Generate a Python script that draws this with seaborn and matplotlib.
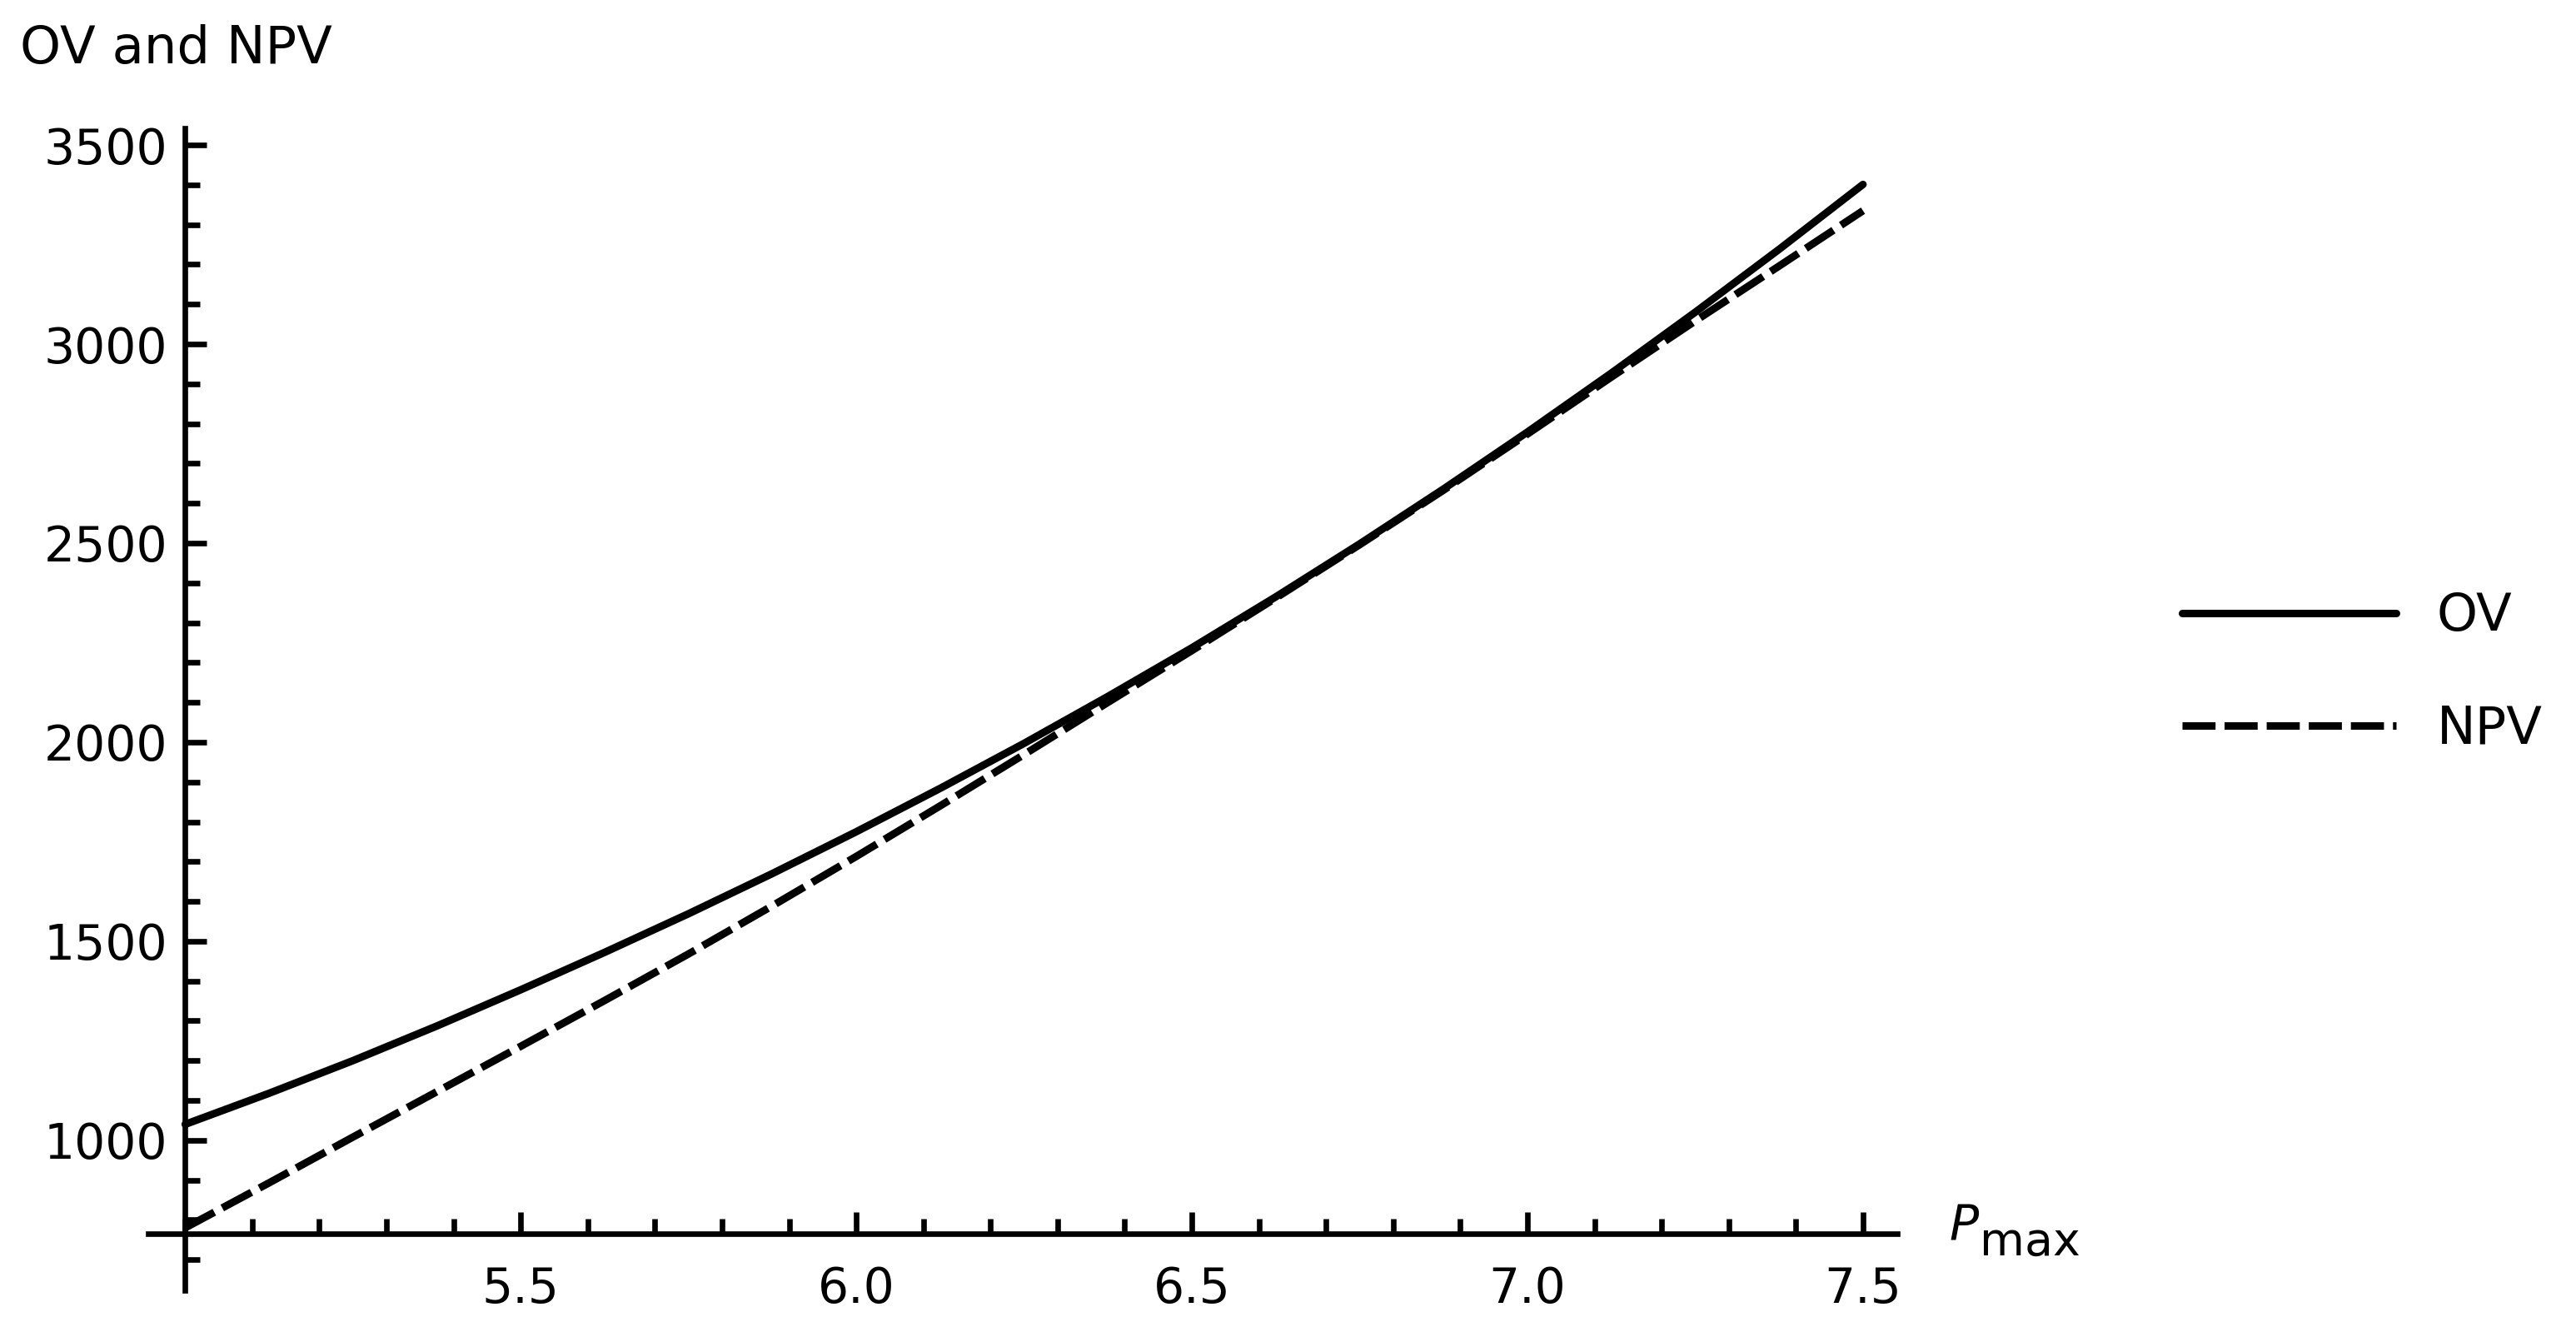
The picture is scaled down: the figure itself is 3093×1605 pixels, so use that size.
import matplotlib
matplotlib.use("Agg")
import matplotlib.pyplot as plt
import seaborn as sns
import pandas as pd
from matplotlib.lines import Line2D
from matplotlib.ticker import FixedLocator, MultipleLocator

# values
p_max = [5.0, 5.125, 5.25, 5.375, 5.5, 5.625, 5.75, 5.875, 6.0, 6.125, 6.25,
         6.375, 6.5, 6.625, 6.75, 6.875, 7.0, 7.125, 7.25, 7.375, 7.5]
ov = [1040, 1118, 1200, 1287, 1378, 1472, 1569, 1670, 1775, 1884, 1997,
      2115, 2237, 2365, 2498, 2636, 2779, 2927, 3080, 3238, 3401]
npv = [780, 893, 1008, 1122, 1236, 1351, 1468, 1589, 1713, 1840, 1969,
       2100, 2230, 2362, 2496, 2633, 2774, 2917, 3058, 3196, 3335]

x_ticks = [5.5, 6.0, 6.5, 7.0, 7.5]
x_tick_labels = ["5.5", "6.0", "6.5", "7.0", "7.5"]
y_ticks = [1000, 1500, 2000, 2500, 3000, 3500]
y_tick_labels = ["1000", "1500", "2000", "2500", "3000", "3500"]
series_names = ["OV", "NPV"]

sns.set_style("white")
plt.rcParams["font.family"] = ["DejaVu Sans"]
plt.rcParams["text.color"] = "black"

df = pd.DataFrame({
    "Pmax": p_max + p_max,
    "value": ov + npv,
    "series": [series_names[0]] * len(p_max) + [series_names[1]] * len(p_max),
})

W, H = 3093, 1605
fig = plt.figure(figsize=(W / 100, H / 100), dpi=100)
ax = fig.add_axes([178 / W, 1 - 1549 / H, (2278 - 178) / W, (1549 - 154) / H])

lw = 6.5
npv_dash = (4.4, 1.2)
sns.lineplot(data=df, x="Pmax", y="value", style="series", style_order=series_names,
             dashes={"OV": "", "NPV": npv_dash}, color="black", linewidth=lw,
             legend=False, ax=ax)

ax.set_xlim(4.945, 7.551)
ax.set_ylim(623, 3542)
ax.set_xlabel("")
ax.set_ylabel("")

# mathematica style axes crossing at (5.0, 765)
for side in ["top", "right"]:
    ax.spines[side].set_visible(False)
ax.spines["left"].set_position(("data", 5.0))
ax.spines["bottom"].set_position(("data", 765))
for side in ["left", "bottom"]:
    ax.spines[side].set_linewidth(4.8)
    ax.spines[side].set_color("black")

ax.xaxis.set_major_locator(FixedLocator(x_ticks))
ax.set_xticklabels(x_tick_labels)
ax.xaxis.set_minor_locator(MultipleLocator(0.1))
ax.yaxis.set_major_locator(FixedLocator(y_ticks))
ax.set_yticklabels(y_tick_labels)
ax.yaxis.set_minor_locator(MultipleLocator(100))

ax.tick_params(which="both", bottom=True, left=True, top=False, right=False,
               direction="in", width=4.8, color="black", labelcolor="black", labelsize=42)
ax.tick_params(which="major", length=18.5)
ax.tick_params(which="minor", length=13)
ax.tick_params(axis="x", which="major", pad=27)
ax.tick_params(axis="y", which="major", pad=15)

# axis labels
fig.text(24 / W, 1 - 59 / H, "OV and NPV", fontsize=45, color="black", ha="left", va="center")
fig.text(2340 / W, 1 - 1488 / H, "P", fontsize=42, style="italic", color="black",
         ha="left", va="baseline")
fig.text(2377 / W, 1 - 1507 / H, "max", fontsize=40, color="black", ha="left", va="baseline")

# legend
handles = [Line2D([], [], color="black", linewidth=lw),
           Line2D([], [], color="black", linewidth=lw, dashes=npv_dash)]
fig.legend(handles, series_names, loc="center left", bbox_to_anchor=(2620 / W, 1 - 808 / H),
           frameon=False, fontsize=45, labelcolor="black", handlelength=4.11,
           handletextpad=0.78, labelspacing=1.2, borderpad=0, borderaxespad=0)

fig.savefig("out.png", dpi=100, facecolor="white")
